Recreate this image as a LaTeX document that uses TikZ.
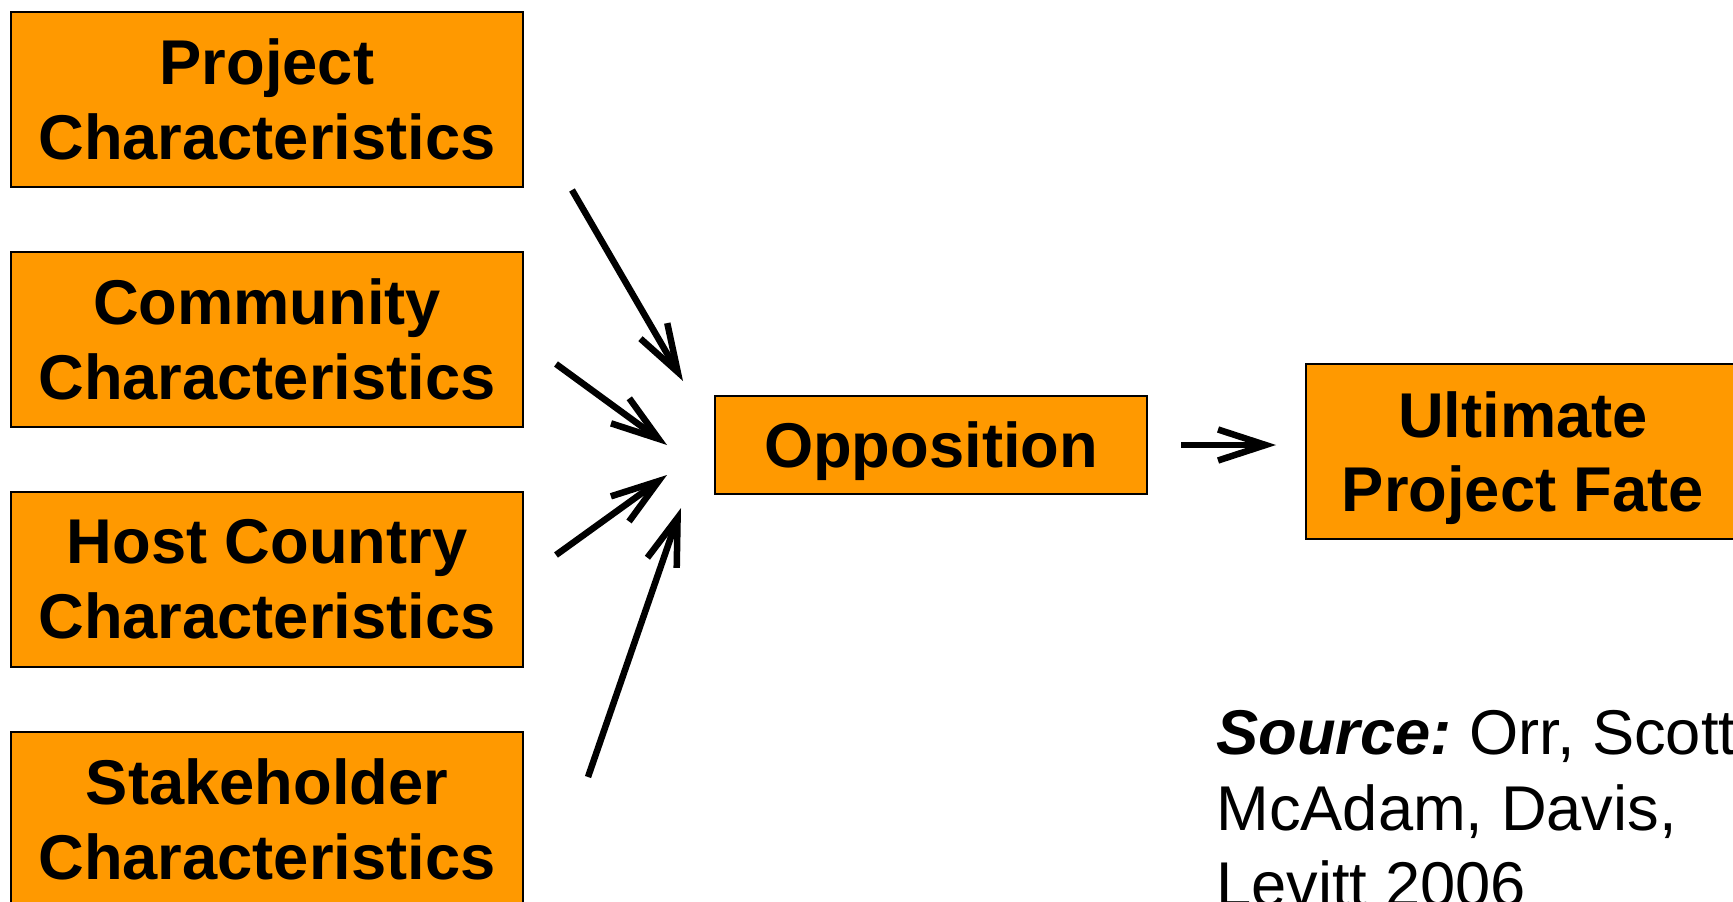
\documentclass[tikz,border=0pt]{standalone}
\usepackage{fontspec}
\setmainfont{Liberation Sans}
\usetikzlibrary{arrows.meta}
\definecolor{boxorange}{RGB}{255,153,0}

\begin{document}
\begin{tikzpicture}[
	factor/.style={draw=black, fill=boxorange, line width=0.04cm, align=center, inner sep=0pt,
		minimum width=10.24cm, minimum height=3.5cm, font=\fontsize{36}{42.5}\selectfont\bfseries},
	flecha/.style={-{Straight Barb[length=0.95cm,width=0.62cm]}, line width=0.13cm}
	]
	
	\useasboundingbox (0,0) rectangle (34.66,-18.04);
	\clip (0,0) rectangle (34.66,-18.04);
	
	% Caracteristicas
	\draw (5.34,-1.99) node[factor] (project) {Project\\Characteristics};
	\draw (5.34,-6.79) node[factor] (community) {Community\\Characteristics};
	\draw (5.34,-11.58) node[factor] (host) {Host Country\\Characteristics};
	\draw (5.34,-16.39) node[factor] (stakeholder) {Stakeholder\\Characteristics};
	
	% Oposicion
	\draw (18.62,-8.9) node[factor, minimum width=8.64cm, minimum height=1.96cm, text depth=0pt] (opposition) {Opposition};
	
	% Destino final
	\draw (30.46,-9.03) node[factor, minimum width=8.68cm, text depth=0pt] (fate) {Ultimate\\Project Fate};
	
	% Flechas
	\draw [flecha] ([xshift=0.96cm,yshift=-0.04cm]project.south east) -- ([xshift=-0.62cm,yshift=1.28cm]opposition.west);
	\draw [flecha] ([xshift=0.64cm,yshift=-0.49cm]community.east) -- ([xshift=-0.94cm]opposition.west);
	\draw [flecha] ([xshift=0.64cm,yshift=0.48cm]host.east) -- ([xshift=-0.94cm,yshift=-0.6cm]opposition.west);
	\draw [flecha] ([xshift=1.28cm,yshift=-0.92cm]stakeholder.north east) -- ([xshift=-0.66cm,yshift=-1.26cm]opposition.west);
	\draw [flecha, shorten <=0.66cm, shorten >=0.58cm] (opposition.east) -- (opposition.east -| fate.west);
	
	% Fuente
	\draw (24.32,-14.19) node[anchor=north west, align=left, inner sep=0pt, font=\fontsize{36}{43.5}\selectfont] (source)
	{
		{\bfseries\itshape Source:}\kern-3.5pt{} Orr, Scott,\\
		McAdam, Davis,\\
		Levitt 2006
	};
	
\end{tikzpicture}
\end{document}
